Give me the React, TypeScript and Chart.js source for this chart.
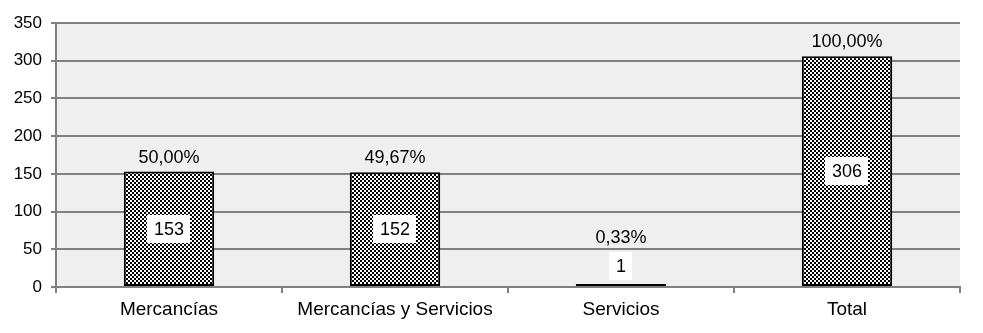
import React, { useEffect, useRef } from "react";
import { Chart, registerables } from "chart.js";

Chart.register(...registerables);

const categories = ["Mercancías", "Mercancías y Servicios", "Servicios", "Total"];
const counts = [153, 152, 1, 306];
const percentLabels = ["50,00%", "49,67%", "0,33%", "100,00%"];
const yMax = 350;
const yStep = 50;

function makePattern(): CanvasPattern | string {
  const c = document.createElement("canvas");
  c.width = 4;
  c.height = 4;
  const ctx = c.getContext("2d");
  if (!ctx) return "#333";
  ctx.fillStyle = "#ffffff";
  ctx.fillRect(0, 0, 4, 4);
  ctx.fillStyle = "#000000";
  ctx.fillRect(0, 0, 2, 2);
  ctx.fillRect(2, 2, 2, 2);
  const p = ctx.createPattern(c, "repeat");
  return p || "#333";
}

const plotBg = {
  id: "plotBg",
  beforeDraw(chart: any) {
    const { ctx, chartArea } = chart;
    if (!chartArea) return;
    ctx.save();
    ctx.fillStyle = "#efefef";
    ctx.fillRect(chartArea.left, chartArea.top, chartArea.right - chartArea.left, chartArea.bottom - chartArea.top);
    ctx.restore();
  },
};

const labelsPlugin = {
  id: "barLabels",
  afterDatasetsDraw(chart: any) {
    const { ctx } = chart;
    const meta = chart.getDatasetMeta(0);
    ctx.save();
    ctx.font = "18px 'Liberation Sans', Arial, sans-serif";
    ctx.textAlign = "center";
    ctx.textBaseline = "middle";
    meta.data.forEach((bar: any, i: number) => {
      const x = bar.x;
      const top = bar.y;
      const base = bar.base;
      const text = String(counts[i]);
      const w = ctx.measureText(text).width + 13;
      const h = 28;
      let cy = (top + base) / 2;
      cy = Math.min(cy, base - 20);
      const boxTop = cy - h / 2;
      ctx.fillStyle = "#ffffff";
      ctx.fillRect(Math.round(x - w / 2), Math.round(boxTop), Math.round(w), h);
      ctx.fillStyle = "#000000";
      ctx.fillText(text, x, cy + 1);
      const py = Math.min(top - 14, boxTop - 14);
      ctx.fillText(percentLabels[i], x, py);
    });
    ctx.restore();
  },
};

export default function App() {
  const ref = useRef<HTMLCanvasElement | null>(null);
  useEffect(() => {
    if (!ref.current) return;
    const pattern = makePattern();
    const chart = new Chart(ref.current, {
      type: "bar",
      data: {
        labels: categories,
        datasets: [
          {
            data: counts,
            backgroundColor: pattern as any,
            borderColor: "#000000",
            borderWidth: 2,
            borderSkipped: false,
            categoryPercentage: 1,
            barPercentage: 0.4,
            minBarLength: 3,
          },
        ],
      },
      options: {
        animation: false,
        responsive: false,
        maintainAspectRatio: false,
        layout: { padding: { left: 0, right: 23, top: 23, bottom: 0 } },
        plugins: {
          legend: { display: false },
          tooltip: { enabled: false },
        },
        scales: {
          x: {
            offset: true,
            grid: {
              offset: true,
              drawOnChartArea: false,
              drawTicks: true,
              tickLength: 6,
              color: "#808080",
              lineWidth: 2,
            },
            border: { color: "#808080", width: 2 },
            ticks: {
              color: "#000000",
              font: { family: "'Liberation Sans', Arial, sans-serif", size: 19 },
              padding: 5,
              maxRotation: 0,
              autoSkip: false,
            },
            afterFit(scale: any) {
              scale.height = 46;
            },
          },
          y: {
            min: 0,
            max: yMax,
            ticks: {
              stepSize: yStep,
              color: "#000000",
              font: { family: "'Liberation Sans', Arial, sans-serif", size: 17 },
              padding: 9,
            },
            grid: {
              color: "#808080",
              lineWidth: 2,
              tickLength: 5,
            },
            border: { color: "#808080", width: 2 },
            afterFit(scale: any) {
              scale.width = 56;
            },
          },
        },
      },
      plugins: [plotBg, labelsPlugin],
    });
    return () => chart.destroy();
  }, []);
  return (
    <div style={{ position: "fixed", left: 0, top: 0, width: 983, height: 333, background: "#ffffff" }}>
      <canvas ref={ref} width={983} height={333} style={{ display: "block" }} />
    </div>
  );
}
